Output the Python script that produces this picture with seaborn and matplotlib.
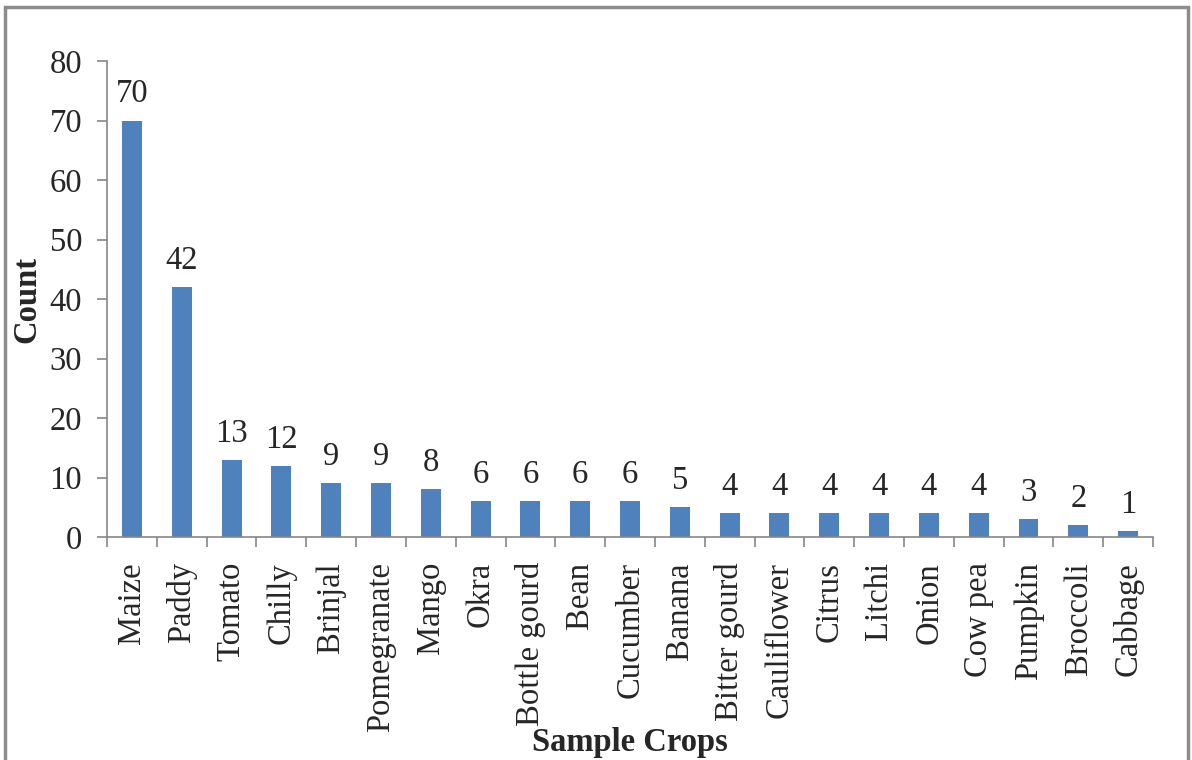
import matplotlib
matplotlib.use("Agg")
import matplotlib.pyplot as plt
import matplotlib.patches as mpatches
from matplotlib.ticker import FixedLocator, NullFormatter
import seaborn as sns
import pandas as pd

crops = ["Maize", "Paddy", "Tomato", "Chilly", "Brinjal", "Pomegranate", "Mango",
         "Okra", "Bottle gourd", "Bean", "Cucumber", "Banana", "Bitter gourd",
         "Cauliflower", "Citrus", "Litchi", "Onion", "Cow pea", "Pumpkin",
         "Broccoli", "Cabbage"]
counts = [70, 42, 13, 12, 9, 9, 8, 6, 6, 6, 6, 5, 4, 4, 4, 4, 4, 4, 3, 2, 1]
y_ticks = [0, 10, 20, 30, 40, 50, 60, 70, 80]

sns.set_theme(style="white")
plt.rcParams["font.family"] = ["Liberation Serif", "DejaVu Serif"]

FS = 23.5

df = pd.DataFrame({"crop": crops, "count": counts})

fig = plt.figure(figsize=(11.92, 7.6), dpi=100)
ax = fig.add_axes([0.0898, 0.2934, 0.8775, 0.6263])

sns.barplot(data=df, x="crop", y="count", color="#4F81BD", width=0.4,
            saturation=1, linewidth=0, ax=ax)

ax.set_ylim(0, 80)
ax.set_xlim(-0.5, len(crops) - 0.5)
ax.set_yticks(y_ticks)
ax.tick_params(axis="y", labelsize=FS, length=7, width=1.2, color="#868686",
               direction="out", left=True, pad=11)
ax.tick_params(axis="x", which="major", length=0, labelsize=FS, labelrotation=90,
               pad=18)
ax.xaxis.set_minor_locator(FixedLocator([i - 0.5 for i in range(len(crops) + 1)]))
ax.xaxis.set_minor_formatter(NullFormatter())
ax.tick_params(axis="x", which="minor", length=7, width=1.2, color="#868686",
               direction="out", bottom=True)

for s in ["top", "right"]:
    ax.spines[s].set_visible(False)
for s in ["left", "bottom"]:
    ax.spines[s].set_color("#868686")
    ax.spines[s].set_linewidth(1.2)

for i, v in enumerate(counts):
    ax.annotate(str(v), (i, v), xytext=(0, 8), textcoords="offset points",
                ha="center", va="bottom", fontsize=FS)

ax.set_ylabel("Count", fontsize=FS, fontweight="bold")
ax.yaxis.set_label_coords(-0.062, 0.5)
ax.set_xlabel("Sample Crops", fontsize=FS, fontweight="bold")
ax.xaxis.set_label_coords(0.5, -0.400)

fig.patches.append(mpatches.Rectangle((5 / 1192, -0.02), 1183 / 1192, 1 - 7 / 760 + 0.02,
                                      transform=fig.transFigure, fill=False,
                                      edgecolor="#8C8C8C", linewidth=2.5))

fig.savefig("out.png", dpi=100, facecolor="white")
